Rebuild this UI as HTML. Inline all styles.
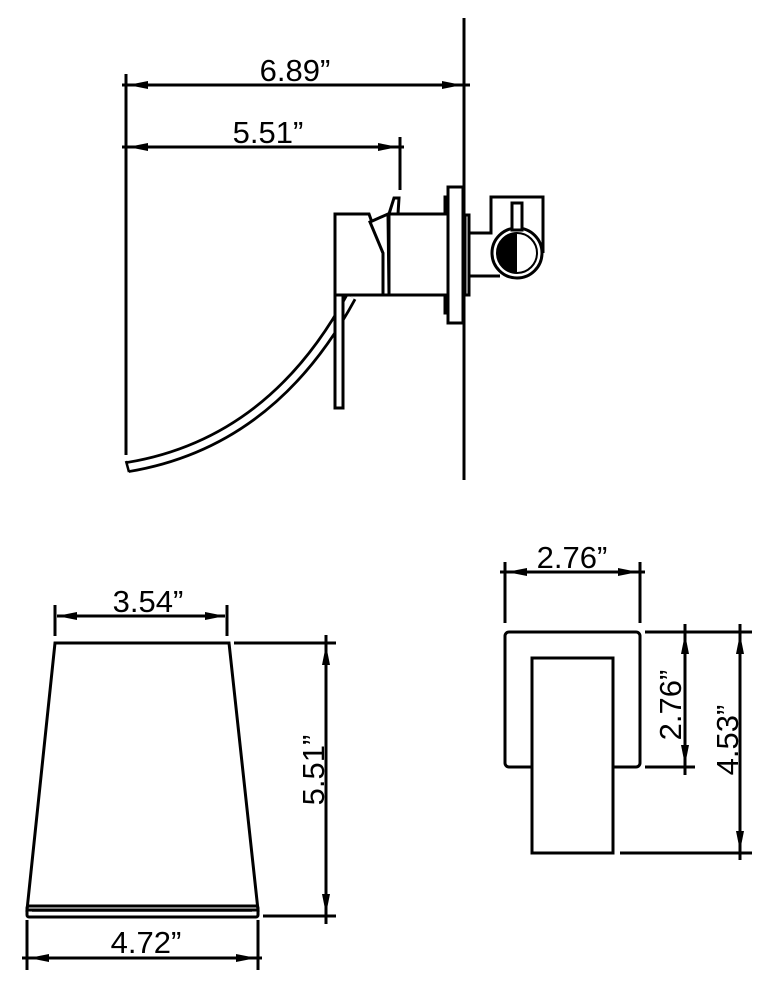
<!DOCTYPE html>
<html><head><meta charset="utf-8"><style>
html,body{margin:0;padding:0;background:#fff;}
svg{display:block;}
text{font-family:"Liberation Sans",Arial,sans-serif;font-size:31px;fill:#000;}
</style></head><body>
<svg width="772" height="990" viewBox="0 0 772 990" xmlns="http://www.w3.org/2000/svg">
<defs>
<marker id="a" viewBox="0 0 20 8" refX="20" refY="4" markerWidth="20" markerHeight="8" markerUnits="userSpaceOnUse" orient="auto-start-reverse">
<path d="M0,0 L20,4 L0,8 Z" fill="#000"/></marker>
</defs>
<g stroke="#000" stroke-width="3" fill="none">
<!-- TOP VIEW -->
<line x1="464" y1="18" x2="464" y2="480"/>
<line x1="126" y1="74" x2="126" y2="455"/>
<line x1="128" y1="85" x2="462" y2="85" marker-start="url(#a)" marker-end="url(#a)"/>
<line x1="122" y1="85" x2="470" y2="85"/>
<line x1="400" y1="137" x2="400" y2="190"/>
<line x1="128" y1="147" x2="398" y2="147" marker-start="url(#a)" marker-end="url(#a)"/>
<line x1="122" y1="147" x2="404" y2="147"/>
<!-- spout -->
<path d="M351,297 Q272,443 128,467" stroke-width="12"/>
<path d="M351,297 Q272,443 128,467" stroke="#fff" stroke-width="6.5"/>
<line x1="126" y1="461" x2="129" y2="472" stroke-width="2.5"/>
<!-- lever -->
<path d="M335,295 L335,214 L369,214 L383,253 L383,295 Z" fill="#fff"/>
<path d="M370,222 L388,214 L389,295 L383,295 L383,253 Z" fill="#fff"/>
<path d="M389,214 L394,198 L399,198 L398,214" fill="#fff"/>
<rect x="335" y="295" width="8" height="113" fill="#fff"/>
<rect x="389" y="214" width="59" height="81" fill="#fff"/>
<rect x="445" y="197" width="4" height="16" fill="#fff"/>
<rect x="445" y="297" width="4" height="16" fill="#fff"/>
<rect x="448" y="187" width="15" height="136" fill="#fff"/>
<rect x="465" y="215" width="4" height="80" fill="#fff"/>
<path d="M469,233 L491,233 L491,197 L543,197 L543,253 M469,276 L500,276"/>
<circle cx="517" cy="253" r="25" fill="#fff"/>
<circle cx="517" cy="253" r="20" stroke-width="2"/>
<path d="M517,233 A20,20 0 0 0 517,273 Z" fill="#000" stroke="none"/>
<rect x="512" y="203" width="10" height="27" fill="#fff"/>
<!-- BOTTOM LEFT -->
<path d="M55,643 L229,643 L258,910 L27,910 Z"/>
<rect x="27" y="906" width="231" height="11" rx="2"/>
<line x1="32" y1="911" x2="252" y2="911" stroke-width="1.5"/>
<line x1="55" y1="605" x2="55" y2="636"/>
<line x1="227" y1="605" x2="227" y2="636"/>
<line x1="57" y1="616" x2="225" y2="616" marker-start="url(#a)" marker-end="url(#a)"/>
<line x1="27" y1="920" x2="27" y2="970"/>
<line x1="258" y1="920" x2="258" y2="970"/>
<line x1="29" y1="958" x2="256" y2="958" marker-start="url(#a)" marker-end="url(#a)"/>
<line x1="22" y1="958" x2="262" y2="958"/>
<line x1="234" y1="643" x2="336" y2="643"/>
<line x1="263" y1="916" x2="336" y2="916"/>
<line x1="326" y1="635" x2="326" y2="924"/>
<line x1="326" y1="645" x2="326" y2="914" marker-start="url(#a)" marker-end="url(#a)"/>
<!-- BOTTOM RIGHT -->
<rect x="505" y="632" width="135" height="135" rx="4"/>
<rect x="532" y="658" width="81" height="195" fill="#fff"/>
<line x1="505" y1="562" x2="505" y2="623"/>
<line x1="640" y1="562" x2="640" y2="623"/>
<line x1="507" y1="572" x2="638" y2="572" marker-start="url(#a)" marker-end="url(#a)"/>
<line x1="500" y1="572" x2="645" y2="572"/>
<line x1="645" y1="632" x2="752" y2="632"/>
<line x1="645" y1="767" x2="695" y2="767"/>
<line x1="620" y1="853" x2="752" y2="853"/>
<line x1="685" y1="624" x2="685" y2="775"/>
<line x1="685" y1="634" x2="685" y2="765" marker-start="url(#a)" marker-end="url(#a)"/>
<line x1="740" y1="624" x2="740" y2="860"/>
<line x1="740" y1="634" x2="740" y2="851" marker-start="url(#a)" marker-end="url(#a)"/>
</g>
<text x="295" y="81" text-anchor="middle">6.89”</text>
<text x="268" y="143" text-anchor="middle">5.51”</text>
<text x="148" y="612" text-anchor="middle">3.54”</text>
<text x="146" y="953" text-anchor="middle">4.72”</text>
<text x="572" y="568" text-anchor="middle">2.76”</text>
<text transform="translate(324,770) rotate(-90)" text-anchor="middle">5.51”</text>
<text transform="translate(681,705) rotate(-90)" text-anchor="middle">2.76”</text>
<text transform="translate(738,740) rotate(-90)" text-anchor="middle">4.53”</text>
</svg>
</body></html>
